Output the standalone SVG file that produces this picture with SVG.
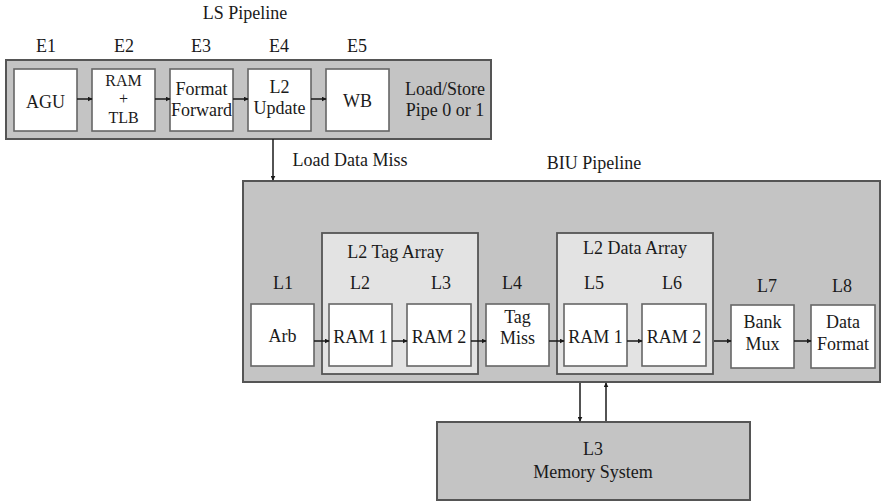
<svg xmlns="http://www.w3.org/2000/svg" width="884" height="503" viewBox="0 0 884 503">
  <style>
    text { font-family: 'Liberation Serif', Tinos, 'Noto Serif', 'DejaVu Serif', 'Times New Roman', Times, serif; font-size: 18px; fill: #1a1a1a; text-anchor: middle; }
    .tight { font-size: 16px; }
    .pipe { fill: #c4c4c4; stroke: #555; stroke-width: 2; }
    .array { fill: #e3e3e3; stroke: #555; stroke-width: 1.8; }
    .stage { fill: #ffffff; stroke: #666; stroke-width: 1.6; }
    .conn { stroke: #1a1a1a; stroke-width: 1.5; fill: none; marker-end: url(#arrow); }
  </style>
  <defs>
    <marker id="arrow" viewBox="0 0 8 8" refX="7" refY="4" markerWidth="5" markerHeight="5" orient="auto" markerUnits="userSpaceOnUse">
      <path d="M0,0 L8,4 L0,8 z" fill="#1a1a1a"/>
    </marker>
  </defs>
  <rect width="884" height="503" fill="#ffffff"/>

  <!-- Load/store pipeline -->
  <g id="ls-pipeline">
    <text x="245" y="19">LS Pipeline</text>
    <rect class="pipe" x="6" y="60" width="485" height="79"/>
    <text x="46" y="52">E1</text>
    <text x="124" y="52">E2</text>
    <text x="201" y="52">E3</text>
    <text x="279" y="52">E4</text>
    <text x="357" y="52">E5</text>
    <text x="445" y="95">Load/Store</text>
    <text x="445" y="116">Pipe 0 or 1</text>
  </g>
  <g id="agu">
    <rect class="stage" x="14" y="69" width="63" height="62"/>
    <text x="45.5" y="108">AGU</text>
  </g>
  <g id="ram-tlb">
    <rect class="stage" x="92" y="69" width="63" height="62"/>
    <text class="tight" x="123.5" y="85.5">RAM</text>
    <text class="tight" x="123.5" y="104">+</text>
    <text class="tight" x="123.5" y="122.5">TLB</text>
  </g>
  <g id="format-forward">
    <rect class="stage" x="170" y="69" width="63" height="62"/>
    <text x="201.5" y="95">Format</text>
    <text x="201.5" y="116">Forward</text>
  </g>
  <g id="l2-update">
    <rect class="stage" x="248" y="69" width="63" height="62"/>
    <text x="279.5" y="93">L2</text>
    <text x="279.5" y="114">Update</text>
  </g>
  <g id="wb">
    <rect class="stage" x="326" y="69" width="63" height="62"/>
    <text x="357.5" y="107">WB</text>
  </g>

  <!-- BIU pipeline -->
  <g id="biu-pipeline">
    <text x="594" y="169">BIU Pipeline</text>
    <rect class="pipe" x="243" y="181" width="637" height="201"/>
    <text x="283" y="289">L1</text>
    <text x="512" y="289">L4</text>
    <text x="767" y="292">L7</text>
    <text x="842" y="292">L8</text>
  </g>
  <g id="l2-tag-array">
    <rect class="array" x="322" y="233" width="156" height="141"/>
    <text x="395.5" y="258">L2 Tag Array</text>
    <text x="360" y="289">L2</text>
    <text x="441" y="289">L3</text>
  </g>
  <g id="l2-data-array">
    <rect class="array" x="557" y="233" width="156" height="141"/>
    <text x="635" y="254">L2 Data Array</text>
    <text x="594" y="289">L5</text>
    <text x="672" y="289">L6</text>
  </g>
  <g id="arb">
    <rect class="stage" x="251" y="304" width="63" height="62"/>
    <text x="282.5" y="342">Arb</text>
  </g>
  <g id="tag-ram1">
    <rect class="stage" x="329" y="304" width="63" height="62"/>
    <text x="360.5" y="343">RAM 1</text>
  </g>
  <g id="tag-ram2">
    <rect class="stage" x="407" y="304" width="64" height="62"/>
    <text x="439" y="343">RAM 2</text>
  </g>
  <g id="tag-miss">
    <rect class="stage" x="486" y="304" width="63" height="62"/>
    <text x="517.5" y="323">Tag</text>
    <text x="517.5" y="344">Miss</text>
  </g>
  <g id="data-ram1">
    <rect class="stage" x="564" y="304" width="63" height="62"/>
    <text x="595.5" y="343">RAM 1</text>
  </g>
  <g id="data-ram2">
    <rect class="stage" x="642" y="304" width="64" height="62"/>
    <text x="674" y="343">RAM 2</text>
  </g>
  <g id="bank-mux">
    <rect class="stage" x="731" y="305" width="63" height="63"/>
    <text x="762.5" y="328">Bank</text>
    <text x="762.5" y="350">Mux</text>
  </g>
  <g id="data-format">
    <rect class="stage" x="811" y="305" width="64" height="63"/>
    <text x="843" y="328">Data</text>
    <text x="843" y="350">Format</text>
  </g>

  <!-- L3 memory system -->
  <g id="l3-memory">
    <rect class="pipe" x="437" y="422" width="313" height="78"/>
    <text x="593" y="455">L3</text>
    <text x="593" y="478">Memory System</text>
  </g>

  <!-- Connectors -->
  <g id="connectors">
    <line class="conn" x1="77" y1="99" x2="92" y2="99"/>
    <line class="conn" x1="155" y1="99" x2="170" y2="99"/>
    <line class="conn" x1="233" y1="99" x2="248" y2="99"/>
    <line class="conn" x1="311" y1="99" x2="326" y2="99"/>
    <line class="conn" x1="273" y1="139" x2="273" y2="180"/>
    <text x="350" y="166">Load Data Miss</text>
    <line class="conn" x1="314" y1="341" x2="329" y2="341"/>
    <line class="conn" x1="392" y1="341" x2="407" y2="341"/>
    <line class="conn" x1="471" y1="341" x2="486" y2="341"/>
    <line class="conn" x1="549" y1="341" x2="564" y2="341"/>
    <line class="conn" x1="627" y1="341" x2="642" y2="341"/>
    <line class="conn" x1="714" y1="341" x2="731" y2="341"/>
    <line class="conn" x1="794" y1="341" x2="811" y2="341"/>
    <line class="conn" x1="580" y1="383" x2="580" y2="421"/>
    <line class="conn" x1="606" y1="421" x2="606" y2="383"/>
  </g>
</svg>
